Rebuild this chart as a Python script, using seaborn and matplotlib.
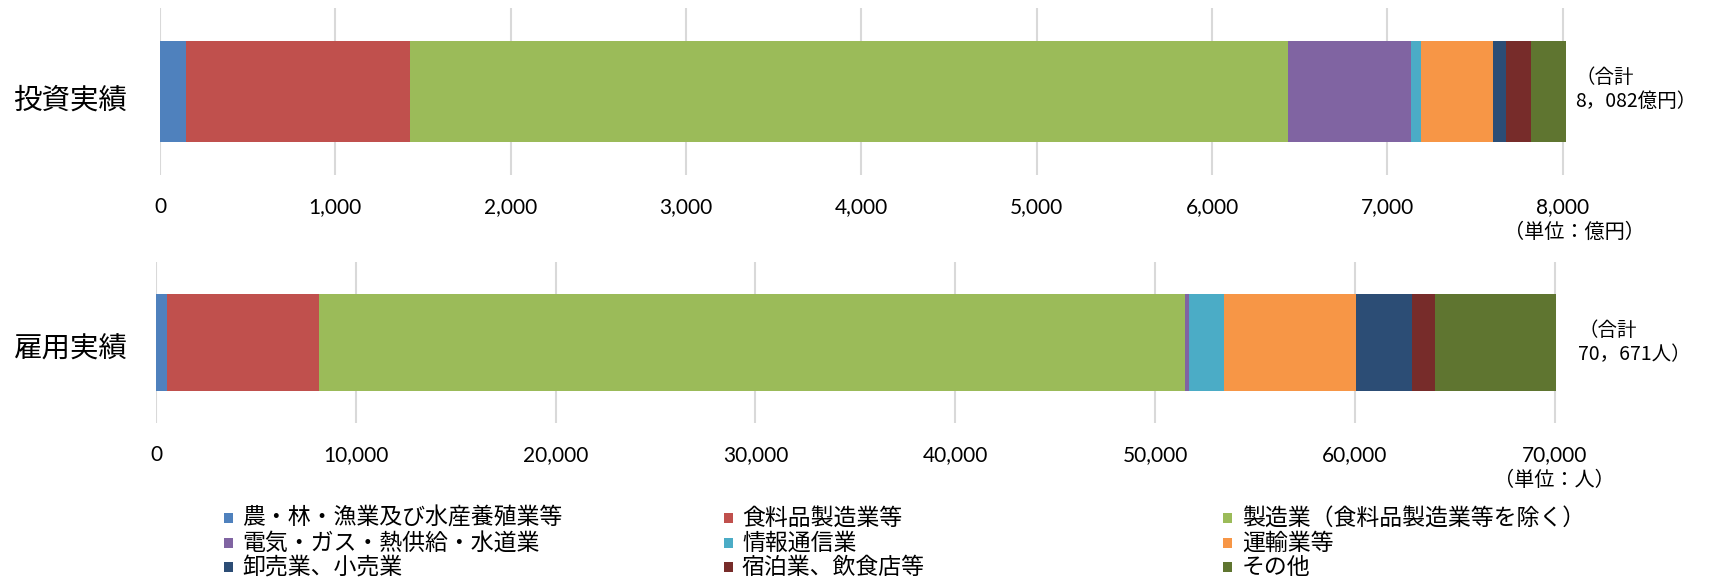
import matplotlib
matplotlib.use("Agg")
import matplotlib.pyplot as plt
import matplotlib.transforms as mtransforms
import seaborn as sns
import pandas as pd
import numpy as np
from matplotlib.patches import Rectangle

# ---------------- data ----------------
categories = ["農・林・漁業及び水産養殖業等", "食料品製造業等", "製造業（食料品製造業等を除く）",
              "電気・ガス・熱供給・水道業", "情報通信業", "運輸業等",
              "卸売業、小売業", "宿泊業、飲食店等", "その他"]
colors = ["#4F81BD", "#C0504D", "#9BBB59", "#8064A2", "#4BACC6",
          "#F79646", "#2C4D75", "#772C2A", "#5F7530"]
invest_values = [146, 1279, 5006, 701, 57, 411, 74, 142, 200]
employ_values = [550, 7600, 43350, 200, 1760, 6600, 2810, 1150, 6030]
row_labels = ["投資実績", "雇用実績"]
invest_ticks = [0, 1000, 2000, 3000, 4000, 5000, 6000, 7000, 8000]
employ_ticks = [0, 10000, 20000, 30000, 40000, 50000, 60000, 70000]
total_labels = ["（合計\n8，082億円）", "（合計\n70，671人）"]
unit_labels = ["（単位：億円）", "（単位：人）"]

sns.set_theme(style="white")
plt.rcParams['font.family'] = ['Noto Sans CJK JP', 'DejaVu Sans']

W, H = 1710, 583
fig = plt.figure(figsize=(W / 100, H / 100), dpi=100)

def fx(px):
    return px / W

def fy(py):
    return 1 - py / H

ax_top = fig.add_axes([fx(160), fy(175), 8100 * 0.17535 / W, 167 / H])
ax_bot = fig.add_axes([fx(156), fy(423), 71000 * 0.01998 / W, 161 / H])


def stacked(ax, values, label, ticks, xmax, tick_pad, ylab_pad, ylab_shift):
    cum = np.cumsum(values)
    df = pd.DataFrame({"category": categories, "cum": cum, "row": label})
    for i in reversed(range(len(categories))):
        sns.barplot(data=df.iloc[[i]], x="cum", y="row", orient="h",
                    color=colors[i], saturation=1, width=0.6,
                    linewidth=0, ax=ax)
    ax.set_xlim(0, xmax)
    ax.set_ylim(0.5, -0.5)
    ax.set_xticks(ticks)
    ax.set_xticklabels([f"{t:,}" for t in ticks], fontfamily="Lato", fontsize=15)
    ax.grid(axis="x", color="#d9d9d9", linewidth=1.5)
    ax.grid(axis="y", visible=False)
    ax.set_axisbelow(True)
    for s in ax.spines.values():
        s.set_visible(False)
    ax.tick_params(axis="x", length=0, pad=tick_pad, colors="#000000")
    ax.tick_params(axis="y", length=0, pad=ylab_pad, labelsize=20.5, colors="#000000")
    offset = mtransforms.ScaledTranslation(0, -ylab_shift / 100, fig.dpi_scale_trans)
    for lab in ax.get_yticklabels():
        lab.set_transform(lab.get_transform() + offset)
    ax.set_xlabel("")
    ax.set_ylabel("")


stacked(ax_top, invest_values, row_labels[0], invest_ticks, 8100, 16, 24, 6)
stacked(ax_bot, employ_values, row_labels[1], employ_ticks, 71000, 16, 20, 4)

# totals
fig.text(fx(1575), fy(89.5), total_labels[0], ha="left", va="center",
         fontsize=14, linespacing=1.2, color="#000000")
fig.text(fx(1578), fy(342.5), total_labels[1], ha="left", va="center",
         fontsize=14, linespacing=1.2, color="#000000")
# units
fig.text(fx(1645), fy(232), unit_labels[0], ha="right", va="center",
         fontsize=14.5, color="#000000")
fig.text(fx(1615), fy(480), unit_labels[1], ha="right", va="center",
         fontsize=14.5, color="#000000")

# legend (row-wise, 3 columns)
col_marker_x = [224, 724, 1223]
col_text_x = [242, 742, 1242]
row_y = [518, 543, 567]
for idx, (cat, col) in enumerate(zip(categories, colors)):
    r, c = divmod(idx, 3)
    fig.add_artist(Rectangle((fx(col_marker_x[c]), fy(row_y[r] + 5)), 9 / W, 10 / H,
                             transform=fig.transFigure, facecolor=col, edgecolor="none"))
    fig.text(fx(col_text_x[c]), fy(row_y[r]), cat, ha="left", va="center",
             fontsize=16.5, color="#000000")

fig.savefig("out.png", dpi=100, facecolor="white")
